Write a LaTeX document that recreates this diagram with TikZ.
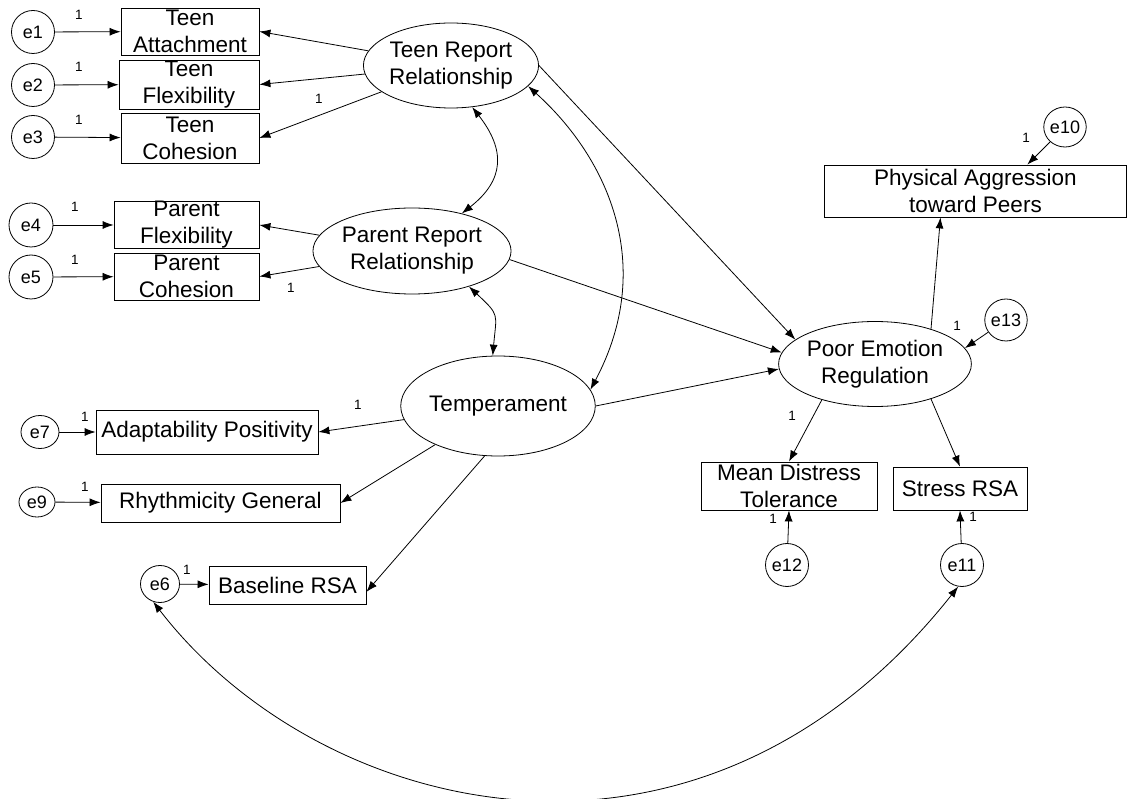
\documentclass[tikz,border=0pt]{standalone}
\usepackage{fontspec}
\setmainfont{Liberation Sans}
\usetikzlibrary{shapes.geometric,arrows.meta}

\begin{document}
\begin{tikzpicture}[
    x=1pt, y=-1pt, line width=0.8pt,
    every node/.style={inner sep=0pt, align=center},
    obs/.style={draw, rectangle, font=\fontsize{22.5}{27}\selectfont},
    lat/.style={draw, ellipse, minimum width=156pt, minimum height=85pt, font=\fontsize{22.5}{27}\selectfont},
    err/.style={draw, ellipse, minimum width=43pt, minimum height=43pt, font=\fontsize{18}{20}\selectfont},
    one/.style={font=\fontsize{13.5}{15}\selectfont},
    reg/.style={-{Latex[length=11pt,width=8pt]}},
    cov/.style={{Latex[length=11pt,width=8pt]}-{Latex[length=11pt,width=8pt]}}
]
\useasboundingbox (0,0) rectangle (1128,799);

% latent variables
\node[lat] (teen) at (451,65.5) {Teen Report\\Relationship};
\node[lat, minimum width=157pt, minimum height=86pt] (parent) at (412,251) {Parent Report\\Relationship};
\node[lat, minimum width=164pt, minimum height=100pt] (temp) at (498,406) {Temperament};
\node[lat] (per) at (875,364) {Poor Emotion\\Regulation};

% observed variables
\node[obs, minimum width=138pt, minimum height=47pt] (tatt) at (190,31.5) {Teen\\Attachment};
\node[obs, minimum width=140pt, minimum height=49pt] (tflex) at (189,84.5) {Teen\\Flexibility};
\node[obs, minimum width=138pt, minimum height=50pt] (tcoh) at (190,138) {Teen\\Cohesion};
\node[obs, minimum width=145pt, minimum height=46pt] (pflex) at (186.5,225) {Parent\\Flexibility};
\node[obs, minimum width=145pt, minimum height=47pt] (pcoh) at (186.5,276.5) {Parent\\Cohesion};
\node[obs, minimum width=222pt, minimum height=44pt] (adapt) at (207,432) {Adaptability Positivity};
\node[obs, minimum width=239pt, minimum height=38pt] (rhythm) at (220.5,503) {Rhythmicity General};
\node[obs, minimum width=157pt, minimum height=38pt] (brsa) at (287.5,585) {Baseline RSA};
\node[obs, minimum width=302pt, minimum height=52pt] (aggr) at (975.5,191) {Physical Aggression\\toward Peers};
\node[obs, minimum width=176pt, minimum height=48pt] (mdt) at (789,486) {Mean Distress\\Tolerance};
\node[obs, minimum width=134pt, minimum height=43pt] (srsa) at (960,488.5) {Stress RSA};

% error terms
\node[err] (e1) at (33,32) {e1};
\node[err] (e2) at (33,85) {e2};
\node[err] (e3) at (33,137) {e3};
\node[err, minimum width=44pt, minimum height=44pt] (e4) at (31,225) {e4};
\node[err, minimum width=44pt, minimum height=44pt] (e5) at (31,277) {e5};
\node[err, minimum width=38pt, minimum height=33pt] (e7) at (40,432) {e7};
\node[err, minimum width=36pt, minimum height=30pt] (e9) at (37,502) {e9};
\node[err, minimum width=39pt, minimum height=37pt] (e6) at (160,584) {e6};
\node[err, minimum width=42pt, minimum height=40pt] (e10) at (1065,127) {e10};
\node[err, minimum width=40pt, minimum height=42pt] (e13) at (1006,320) {e13};
\node[err] (e12) at (787,565) {e12};
\node[err] (e11) at (962,565) {e11};

% fixed weights
\node[one] (w1) at (79,15) {1};
\node[one] (w2) at (79,67) {1};
\node[one] (w3) at (79,120) {1};
\node[one] (w4) at (319,99) {1};
\node[one] (w5) at (75,207) {1};
\node[one] (w6) at (75,260) {1};
\node[one] (w7) at (291,288) {1};
\node[one] (w8) at (358,405) {1};
\node[one] (w9) at (85,417) {1};
\node[one] (w10) at (85,487) {1};
\node[one] (w11) at (187,570) {1};
\node[one] (w12) at (1026,138) {1};
\node[one] (w13) at (957,326) {1};
\node[one] (w14) at (792,416) {1};
\node[one] (w15) at (773,519) {1};
\node[one] (w16) at (973,517) {1};

\draw[reg] (e1) -- (tatt);
\draw[reg] (e2) -- (tflex);
\draw[reg] (e3) -- (tcoh);
\draw[reg] (e4) -- (pflex);
\draw[reg] (e5) -- (pcoh);
\draw[reg] (e7) -- (adapt);
\draw[reg] (e9) -- (rhythm);
\draw[reg] (e6) -- (brsa);

\draw[reg] (teen) -- (tatt.east);
\draw[reg] (teen) -- (tflex.east);
\draw[reg] (teen) -- (tcoh.east);
\draw[reg] (parent) -- (pflex.east);
\draw[reg] (parent) -- (pcoh.east);
\draw[reg] (temp) -- (adapt.east);
\draw[reg] (temp) -- (rhythm.east);
\draw[reg] (temp.-105) -- (brsa.-5);

\draw[reg] (teen.east) -- (per.163);
\draw[reg] (parent.-5) -- (per.173);
\draw[reg] (temp.east) -- (per.183);

\draw[reg] (per.32) -- (aggr.-143);
\draw[reg] (e10) -- (aggr.27);
\draw[reg] (e13) -- (per.10);
\draw[reg] (per.-146) -- (mdt.north);
\draw[reg] (per.-32) -- (srsa.north);
\draw[reg] (e12) -- (mdt.south);
\draw[reg] (e11) -- (srsa.south);

% covariances
\draw[cov] (teen.-63) to[out=-52, in=38, looseness=1.3] (parent.37);
\draw[cov] (parent.-32) to[out=-43, in=85, looseness=1.5] (temp.96);
\draw[cov] (teen.-15) to[out=-42, in=62, out looseness=0.9, in looseness=1.15] (temp.10);
\draw[cov] (e6.-111) .. controls (319,817) and (698,915) .. (e11.-100);
\end{tikzpicture}
\end{document}
